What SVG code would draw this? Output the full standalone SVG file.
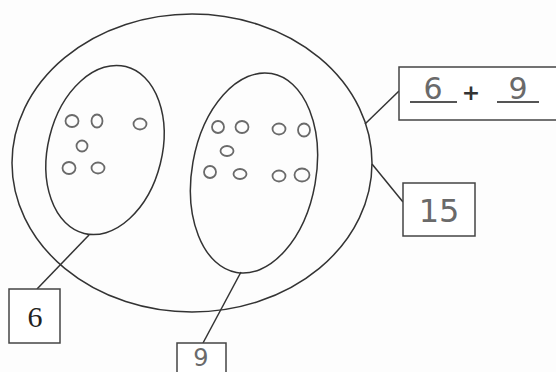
<svg xmlns="http://www.w3.org/2000/svg" width="556" height="372" viewBox="0 0 556 372">
<style>
.ln{fill:none;stroke:#333;stroke-width:1.5}
.box{fill:#fff;stroke:#444;stroke-width:1.5}
.dot{fill:none;stroke:#6a6a6a;stroke-width:1.8}
.hw{font-family:"DejaVu Sans",sans-serif;fill:#6a6a6a;text-anchor:middle}
.pr{font-family:"Liberation Serif",serif;fill:#222;text-anchor:middle}
</style>
<rect width="556" height="372" fill="#fdfdfd"/>
<g id="outer-set">
<ellipse class="ln" cx="192" cy="163" rx="180" ry="149"/>
</g>
<g id="set-6">
<ellipse class="ln" cx="105" cy="150" rx="57" ry="86" transform="rotate(14 105 150)"/>
<g class="dot">
<ellipse cx="72" cy="121" rx="6.5" ry="6"/>
<ellipse cx="97" cy="121" rx="5.5" ry="6.5"/>
<ellipse cx="140" cy="124" rx="6.5" ry="5.5"/>
<ellipse cx="82" cy="146" rx="5.5" ry="5.5"/>
<ellipse cx="69" cy="168" rx="6.5" ry="6"/>
<ellipse cx="98" cy="168" rx="6.5" ry="5.5"/>
</g>
</g>
<g id="set-9">
<ellipse class="ln" cx="254" cy="173" rx="62" ry="101" transform="rotate(10 254 173)"/>
<g class="dot">
<ellipse cx="218" cy="127" rx="6" ry="6"/>
<ellipse cx="242" cy="127" rx="6.5" ry="6"/>
<ellipse cx="279" cy="129" rx="6.5" ry="5.5"/>
<ellipse cx="304" cy="130" rx="6" ry="6.5"/>
<ellipse cx="227" cy="151" rx="6.5" ry="5"/>
<ellipse cx="210" cy="172" rx="6" ry="6"/>
<ellipse cx="240" cy="174" rx="6.5" ry="5"/>
<ellipse cx="279" cy="176" rx="6.5" ry="5.5"/>
<ellipse cx="302" cy="175" rx="7.5" ry="6.5"/>
</g>
</g>
<g id="connectors">
<line class="ln" x1="365" y1="124" x2="399" y2="91"/>
<line class="ln" x1="372" y1="164" x2="403" y2="202"/>
<line class="ln" x1="89" y1="235" x2="37" y2="289"/>
<line class="ln" x1="241" y1="272" x2="203" y2="343"/>
</g>
<g id="box-sum">
<rect class="box" x="399" y="67" width="165" height="53"/>
<text class="hw" x="433" y="99" style="font-size:30px">6</text>
<text x="471" y="100" style="font-family:'DejaVu Sans',sans-serif;font-size:22px;font-weight:bold" fill="#333" text-anchor="middle">+</text>
<text class="hw" x="518" y="99" style="font-size:30px">9</text>
<line x1="410" y1="102" x2="457" y2="102" stroke="#555" stroke-width="1.8"/>
<line x1="497" y1="102" x2="539" y2="102" stroke="#555" stroke-width="1.8"/>
</g>
<g id="box-15">
<rect class="box" x="403" y="183" width="72" height="53"/>
<text class="hw" x="439" y="222" style="font-size:32px">15</text>
</g>
<g id="box-6">
<rect class="box" x="9" y="289" width="51" height="54"/>
<text class="pr" x="35" y="327" style="font-size:30px">6</text>
</g>
<g id="box-9">
<rect class="box" x="177" y="343" width="49" height="40"/>
<text class="hw" x="201" y="366" style="font-size:24px">9</text>
</g>
</svg>
